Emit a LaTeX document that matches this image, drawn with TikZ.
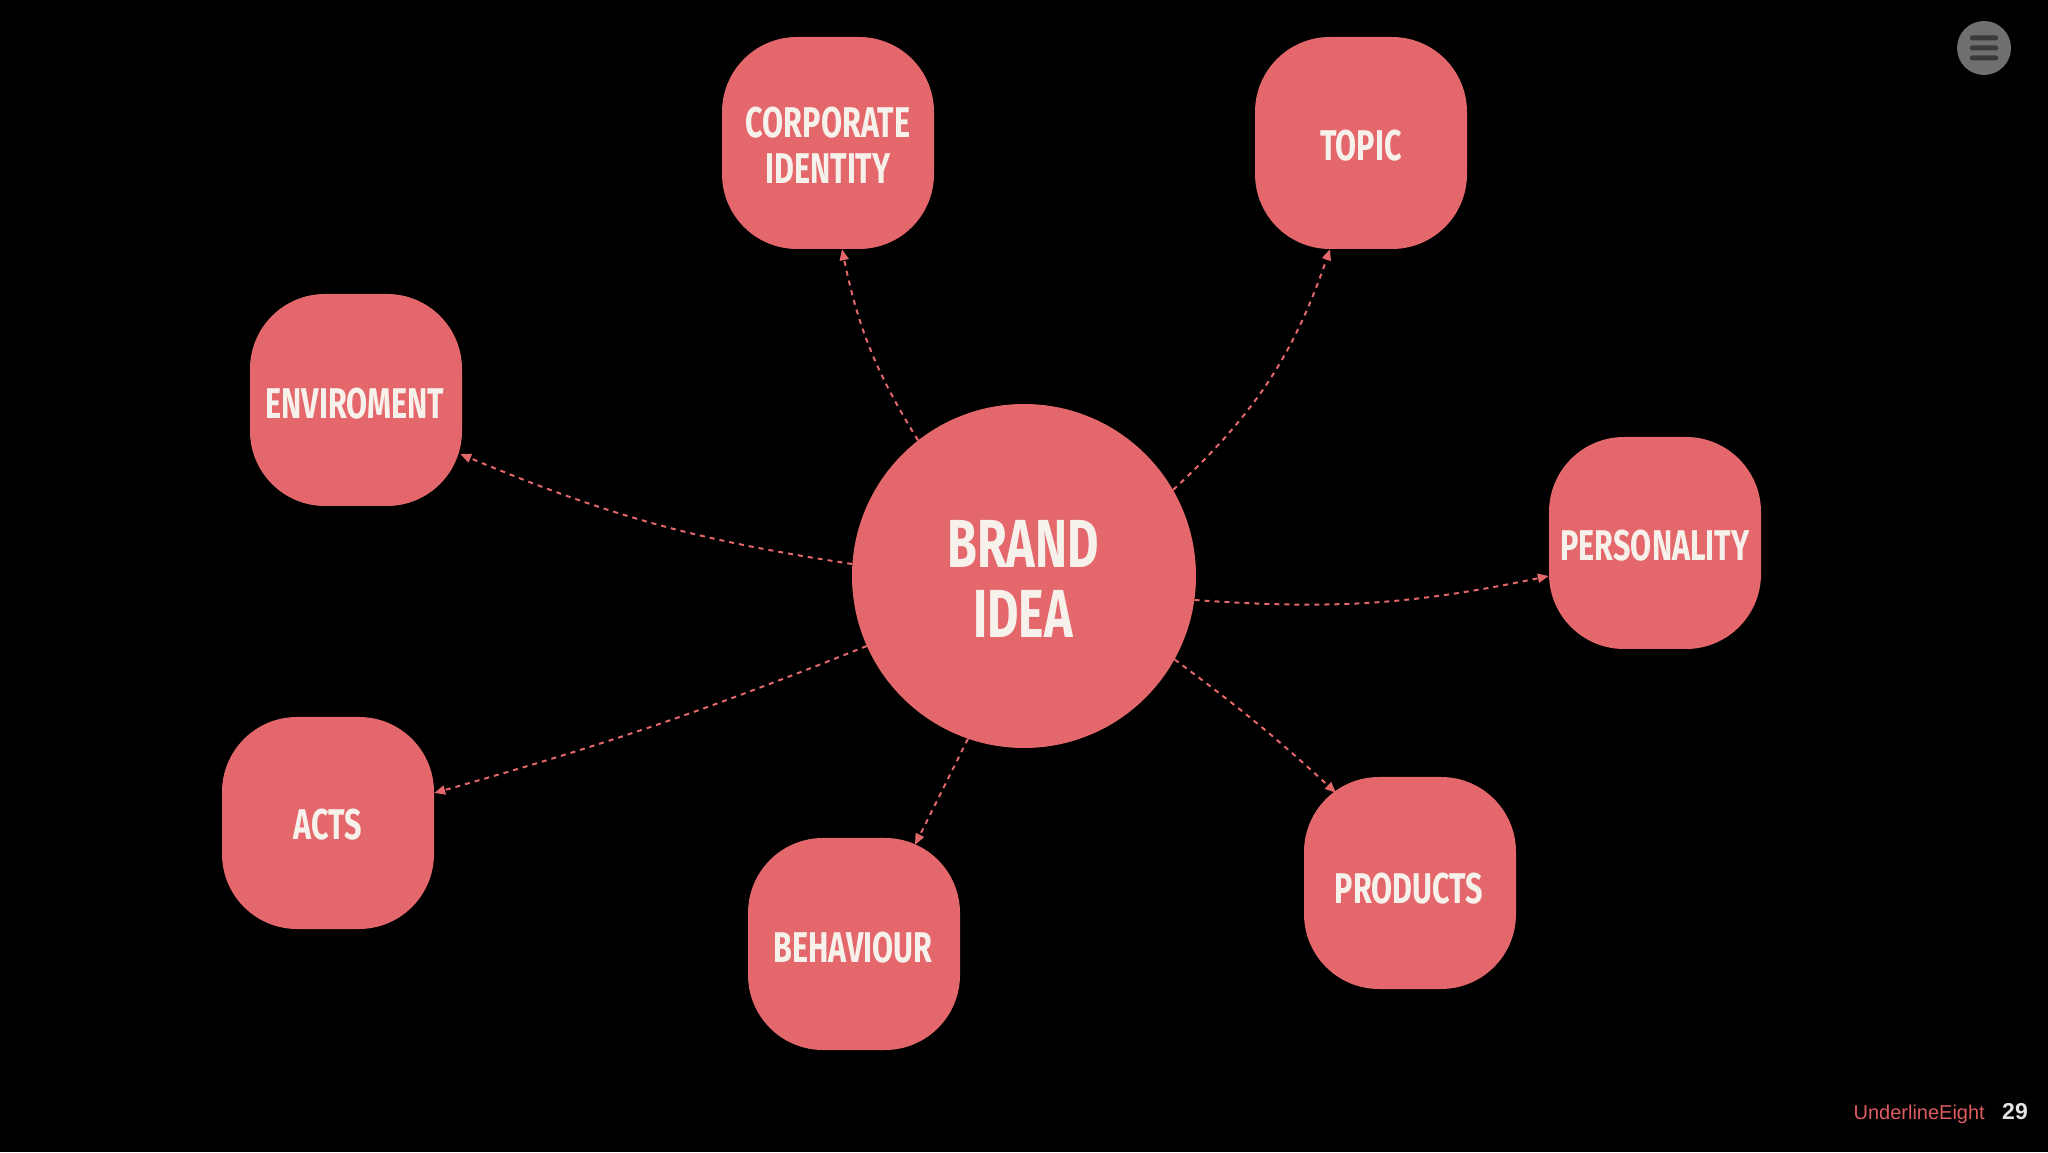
\documentclass[tikz,border=0pt]{standalone}
\usepackage{fontspec}
\setmainfont{Fira Sans}
\newfontfamily\footfont{Liberation Sans}
\usetikzlibrary{arrows.meta}
\definecolor{coral}{HTML}{E4686B}
\definecolor{txtwhite}{HTML}{F7F1EC}
\definecolor{footcoral}{HTML}{DD5D62}
\definecolor{menugrey}{HTML}{6F6F6F}
\definecolor{menubar}{HTML}{3A3A3A}
\tikzset{
  boxnode/.style={fill=coral, rounded corners=75pt, minimum width=212pt, minimum height=212pt, inner sep=0pt},
  hubnode/.style={circle, fill=coral, minimum size=344pt, inner sep=0pt},
  lbl/.style={anchor=base, inner sep=0pt, text=txtwhite, font=\fontsize{43}{46}\selectfont\bfseries},
  biglbl/.style={anchor=base, inner sep=0pt, text=txtwhite, font=\fontsize{68}{70}\selectfont\bfseries},
  conn/.style={draw=coral, line width=2pt, dash pattern=on 5pt off 5pt, -{Triangle[length=11pt,width=9pt]}},
}
\newcommand{\nar}[1]{\scalebox{0.71}[1]{#1}}
\begin{document}
\begin{tikzpicture}[x=1pt,y=1pt]
\fill[black] (0,0) rectangle (2048,1152);
\useasboundingbox (0,0) rectangle (2048,1152);

% hub
\node[hubnode] (brand) at (1024,576) {};
\node[biglbl] (brandA) at (1023,584) {\nar{BRAND}};
\node[biglbl] (brandB) at (1023,514) {\nar{IDEA}};

% boxes
\node[boxnode] (corp) at (828,1009) {};
\node[lbl] (corpA) at (828,1014) {\nar{CORPORATE}};
\node[lbl] (corpB) at (828,968) {\nar{IDENTITY}};

\node[boxnode] (topic) at (1361,1009) {};
\node[lbl] (topicA) at (1361,991) {\nar{TOPIC}};

\node[boxnode] (env) at (356,752) {};
\node[lbl] (envA) at (355,733) {\nar{ENVIROMENT}};

\node[boxnode] (pers) at (1655,609) {};
\node[lbl] (persA) at (1655,591) {\nar{PERSONALITY}};

\node[boxnode] (acts) at (328,329) {};
\node[lbl] (actsA) at (328,312) {\nar{ACTS}};

\node[boxnode] (beh) at (854,208) {};
\node[lbl] (behA) at (853,190) {\nar{BEHAVIOUR}};

\node[boxnode] (prod) at (1410,269) {};
\node[lbl] (prodA) at (1409,249) {\nar{PRODUCTS}};

% connectors
\draw[conn] (brand.128) to[bend left=10] ([xshift=14pt]corp.south);
\draw[conn] (brand.30) to[bend right=14] ([xshift=-31pt]topic.south);
\draw[conn] (brand.176) to[bend left=7] ([shift={(-2pt,-54pt)}]env.east);
\draw[conn] (brand.352) to[bend right=8] ([yshift=-33pt]pers.west);
\draw[conn] (brand.204) to[bend left=3] ([yshift=30pt]acts.east);
\draw[conn] (brand.251) -- ([shift={(61pt,-7pt)}]beh.north);
\draw[conn] (brand.331) to[bend left=3] ([shift={(-74pt,-16pt)}]prod.north);

% menu icon
\node[circle, fill=menugrey, minimum size=54pt, inner sep=0pt] (menu) at (1984,1104) {};
\foreach \dy in {10,0,-10}{
  \fill[menubar, rounded corners=2pt] ([shift={(-14pt,\dy pt-2.5pt)}]menu.center) rectangle ++(28pt,5pt);
}

% footer
\node[anchor=base east, inner sep=0pt, text=footcoral, font=\footfont\fontsize{20}{24}\selectfont] (footname) at (1985,33) {UnderlineEight};
\node[anchor=base west, inner sep=0pt, text=white!90!black, font=\footfont\bfseries\fontsize{23}{26}\selectfont] (pagenum) at (2002,33) {29};
\end{tikzpicture}
\end{document}
